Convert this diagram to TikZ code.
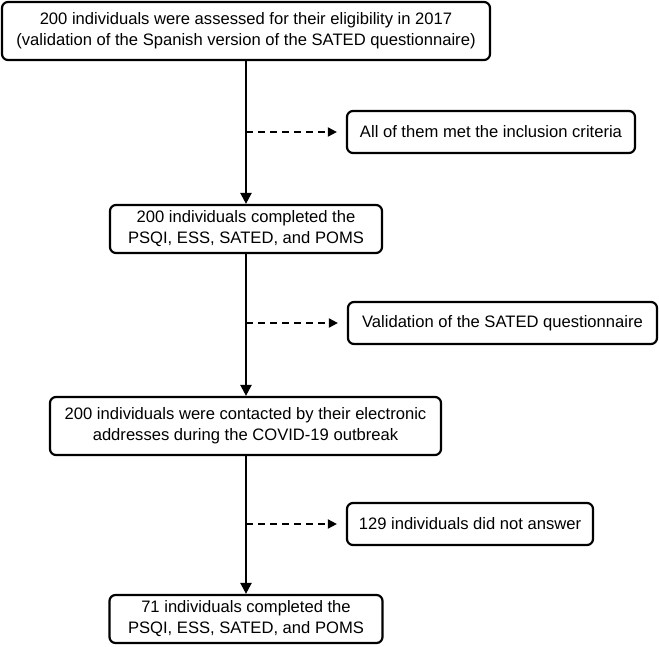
\documentclass[tikz,border=0pt]{standalone}
\usepackage{fontspec}
\setmainfont{Liberation Sans}
\usetikzlibrary{arrows.meta}
\begin{document}
\begin{tikzpicture}[x=1pt,y=-1pt,
  box/.style={draw=black,line width=2.2pt,rounded corners=6pt,align=center,
    inner sep=0pt,font=\fontsize{16.6}{21}\selectfont},
  mainarrow/.style={line width=2.2pt,-{Triangle[length=11pt,width=11pt]}},
  sidearrow/.style={line width=1.8pt,dash pattern=on 7pt off 5pt,-{Triangle[length=9pt,width=9pt]}}]
\useasboundingbox (0,0) rectangle (659,646);
\node[box,minimum width=488pt,minimum height=58pt] (b1) at (246,31)
  {200 individuals were assessed for their eligibility in 2017\\(validation of the Spanish version of the SATED questionnaire)};
\node[box,minimum width=288pt,minimum height=42pt] (r1) at (491,132)
  {All of them met the inclusion criteria};
\node[box,minimum width=272pt,minimum height=48pt] (b2) at (246,229)
  {200 individuals completed the\\PSQI, ESS, SATED, and POMS};
\node[box,minimum width=309pt,minimum height=42pt] (r2) at (502.5,323)
  {Validation of the SATED questionnaire};
\node[box,minimum width=391pt,minimum height=58pt] (b3) at (245.5,426)
  {200 individuals were contacted by their electronic\\addresses during the COVID-19 outbreak};
\node[box,minimum width=246pt,minimum height=42pt] (r3) at (470,524)
  {129 individuals did not answer};
\node[box,minimum width=273pt,minimum height=48pt] (b4) at (246,619)
  {71 individuals completed the\\PSQI, ESS, SATED, and POMS};
\coordinate (c1) at (246,132);
\coordinate (c2) at (246,323);
\coordinate (c3) at (246,524);
\draw[mainarrow] (b1.south -| c1) -- (b2.north -| c1);
\draw[mainarrow] (b2.south -| c1) -- (b3.north -| c1);
\draw[mainarrow] (b3.south -| c1) -- (b4.north -| c1);
\draw[sidearrow] (c1) -- ([xshift=-9pt]r1.west);
\draw[sidearrow] (c2) -- ([xshift=-9pt]r2.west);
\draw[sidearrow] (c3) -- ([xshift=-9pt]r3.west);
\end{tikzpicture}
\end{document}
